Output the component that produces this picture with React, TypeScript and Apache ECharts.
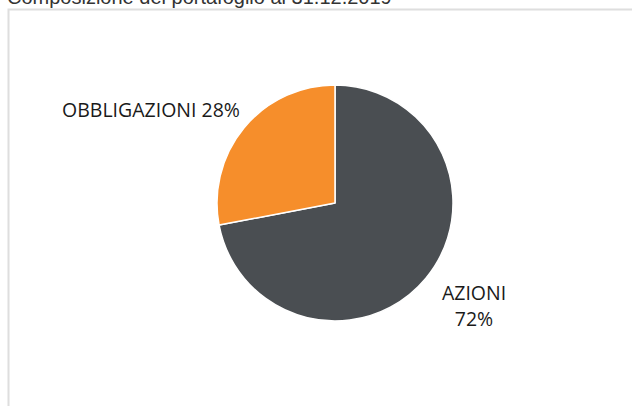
import React, { useEffect, useRef } from "react";
import * as echarts from "echarts";

const titleText = "Composizione del portafoglio al 31.12.2019";
const categories = ["AZIONI", "OBBLIGAZIONI"];
const values = [72, 28];
const colors = ["#4a4e52", "#f68e2b"];

export default function App() {
  const ref = useRef<HTMLDivElement>(null);
  useEffect(() => {
    if (!ref.current) return;
    const chart = echarts.init(ref.current, null, { renderer: "svg" });
    const labelPos = [
      { x: 474, y: 305 },
      { x: 151, y: 109 },
    ];
    chart.setOption({
      animation: false,
      backgroundColor: "#ffffff",
      graphic: [
        {
          type: "rect",
          shape: { x: 8.5, y: 9.5, width: 700, height: 500 },
          style: { fill: "#ffffff", stroke: "#dedede", lineWidth: 2 },
          z: -10,
        },
        {
          type: "text",
          x: 7,
          y: 7,
          style: {
            text: titleText,
            fontSize: 20,
            fontFamily: "Liberation Sans, Arial, sans-serif",
            fill: "#333333",
            verticalAlign: "bottom",
          },
          z: 10,
        },
      ],
      series: [
        {
          type: "pie",
          center: [335, 203],
          radius: 118,
          startAngle: 90,
          clockwise: true,
          itemStyle: { borderColor: "#ffffff", borderWidth: 1.5 },
          label: {
            show: true,
            position: "outside",
            fontFamily: "Open Sans, sans-serif",
            fontSize: 19.5,
            color: "#1a1a1a",
            lineHeight: 26,
            align: "center",
          },
          labelLine: { show: false },
          labelLayout: (params: any) => {
            const p = labelPos[params.dataIndex];
            return { x: p.x, y: p.y, align: "center", verticalAlign: "middle" };
          },
          emphasis: { disabled: true },
          data: categories.map((name, i) => ({
            name,
            value: values[i],
            itemStyle: { color: colors[i] },
            label: {
              formatter: i === 0 ? "{b}\n{d}%" : "{b} {d}%",
            },
          })),
        },
      ],
    });
    return () => chart.dispose();
  }, []);
  return (
    <div
      ref={ref}
      style={{ position: "fixed", left: 0, top: 0, width: 632, height: 406 }}
    />
  );
}
